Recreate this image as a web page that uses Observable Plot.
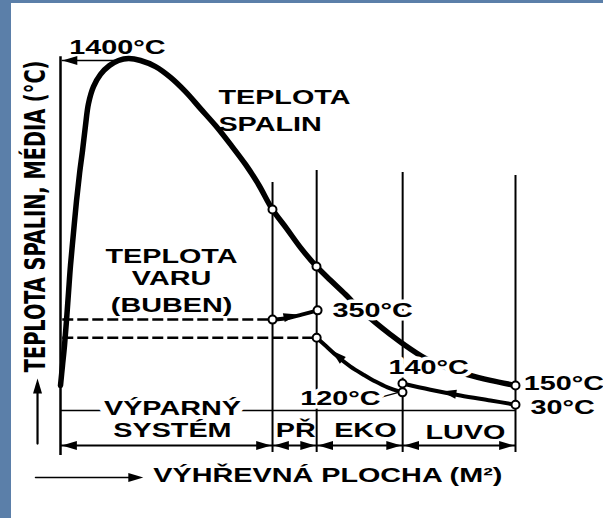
<!DOCTYPE html>
<html><head><meta charset="utf-8">
<script src="https://cdn.jsdelivr.net/npm/d3@7"></script>
<script src="https://cdn.jsdelivr.net/npm/@observablehq/plot@0.6"></script>
<style>
html,body{margin:0;padding:0;}
body{width:603px;height:518px;background:#5b7fa9;position:relative;overflow:hidden;}
#chart{position:absolute;left:11px;top:3px;width:592px;height:515px;background:#fff;}
#chart svg{display:block;}
</style></head><body><div id="chart"></div>
<script>
// ---- data (relative units: x = heating surface, y = temperature level) ----
const sectionNames = ["VÝPARNÝ", "SYSTÉM", "PŘ", "EKO", "LUVO"];
const boundaries = [0, 46.6, 56.3, 75.2, 100];
const dividerTops = [68.3, 71.4, 70.9, 70.1];

const gasX = [0, 0.44, 0.88, 1.32, 1.76, 2.2, 2.86, 3.52, 4.18, 4.84, 5.49, 6.15, 7.25, 8.79, 10.77, 12.75, 14.95, 17.58, 20.88, 24.18, 27.47, 30.77, 34.07, 37.36, 40.66, 43.52, 46.59, 49.67, 52.75, 56.26, 59.34, 62.64, 65.93, 69.23, 72.53, 75.16, 80.22, 84.62, 89.45, 94.51, 100];
const gasY = [15.6, 20.8, 26.0, 32.5, 39.7, 46.8, 55.3, 63.6, 70.6, 76.6, 83.1, 88.8, 93.2, 96.4, 98.7, 100, 100.5, 100, 98.4, 95.6, 91.9, 87.5, 83.1, 78.2, 73.0, 67.8, 61.3, 56.4, 51.4, 46.5, 42.9, 39.2, 35.3, 31.9, 28.8, 26.5, 22.6, 20.3, 18.4, 16.9, 15.6];

const boilLevel = 32.7;      // teplota varu (buben)
const feedLevel = 28.0;
const steamX = [46.6, 50.3, 53.0, 56.5];
const steamY = [32.7, 33.2, 34.0, 35.1];
const waterX = [56.3, 58.46, 60.88, 63.74, 66.59, 69.23, 71.87, 75.16];
const waterY = [28.0, 25.7, 23.1, 20.5, 18.4, 16.6, 15.1, 13.8];
const airX = [75.16, 81.3, 87.9, 94.5, 100];
const airY = [16.1, 14.5, 13.0, 11.7, 10.6];

const tempLabels = ["1400°C", "350°C", "140°C", "150°C", "30°C", "120°C"];
const curveLabels = ["TEPLOTA", "SPALIN", "TEPLOTA", "VARU", "(BUBEN)"];
const axisLabelY = "TEPLOTA SPALIN, MÉDIA (°C)";
const axisLabelX = "VÝHŘEVNÁ PLOCHA (M²)";

// ---- build ----
const pts = (xs, ys) => xs.map((x, i) => ({x, y: ys[i]}));
const gas = pts(gasX, gasY), steam = pts(steamX, steamY), water = pts(waterX, waterY), air = pts(airX, airY);
const nearestGas = (bx) => gas.reduce((a, b) => Math.abs(b.x - bx) < Math.abs(a.x - bx) ? b : a);
const circles = [
  nearestGas(boundaries[1]), nearestGas(boundaries[2]), gas[gas.length - 1],
  steam[0], steam[steam.length - 1], water[0], water[water.length - 1], air[0], air[air.length - 1]
];

function head(angle, len = 2.5, wid = 1.5) {
  const a = angle * Math.PI / 180, c = Math.cos(a), s = Math.sin(a);
  return {draw(ctx, size) {
    const r = Math.sqrt(size / Math.PI), L = len * r, W = wid * r / 2;
    const P = [[0, 0], [-L, -W], [-L, W]].map(([x, y]) => [x * c - y * s, x * s + y * c]);
    ctx.moveTo(...P[0]); ctx.lineTo(...P[1]); ctx.lineTo(...P[2]); ctx.closePath();
  }};
}
const heads = [
  {x: steam[2].x - 0.7, y: steam[2].y, a: -12},
  {x: 59.6, y: 24.7, a: -138},
  {x: 83.7, y: 14.0, a: -170},
  {x: 0.4, y: 100, a: 180},
  {x: -5.05, y: 17.4, a: -90},
  {x: 18.2, y: -8.3, a: 0}
];
boundaries.forEach((b, i) => {
  if (i < boundaries.length - 1) heads.push({x: b + 0.3, y: 0, a: 180});
  if (i > 0) heads.push({x: b - 0.3, y: 0, a: 0});
});

const font = "Liberation Sans, Arial, sans-serif";
const T = (data, o) => Plot.text(data, {x: "x", y: "y", text: "t", fontSize: 21, fontWeight: "bold", fontFamily: font, lineAnchor: "bottom", fill: "black", ...o});

const marks = [
  Plot.ruleX([0], {y1: -2.6, y2: 101, strokeWidth: 2.5}),
  Plot.ruleX(d3.range(4), {x: i => boundaries[i + 1], y1: -1.8, y2: i => dividerTops[i], strokeWidth: 2}),
  Plot.ruleY([9.1], {x1: 0, x2: 100, strokeWidth: 1.6}),
  Plot.ruleY([0], {x1: 0, x2: 100, strokeWidth: 2}),
  Plot.ruleY([boilLevel], {x1: 0.5, x2: boundaries[1], strokeWidth: 2.5, strokeDasharray: "11,4"}),
  Plot.ruleY([feedLevel], {x1: 0.5, x2: boundaries[2], strokeWidth: 2.5, strokeDasharray: "11,4"}),
  Plot.line([{x: 0.4, y: 100}, {x: 13.6, y: 100}], {x: "x", y: "y", strokeWidth: 1.5}),
  Plot.line([{x: -5.05, y: 0.5}, {x: -5.05, y: 16}], {x: "x", y: "y", strokeWidth: 2.2}),
  Plot.line([{x: -5.5, y: -8.3}, {x: 17, y: -8.3}], {x: "x", y: "y", strokeWidth: 1.5}),
  Plot.line([{x: 70.3, y: 12.5}, {x: 74.3, y: 13.8}], {x: "x", y: "y", strokeWidth: 1.5}),
  Plot.line(gas, {x: "x", y: "y", curve: "catmull-rom", strokeWidth: 5.5, strokeLinecap: "round"}),
  Plot.line(steam, {x: "x", y: "y", curve: "catmull-rom", strokeWidth: 4}),
  Plot.line(water, {x: "x", y: "y", curve: "catmull-rom", strokeWidth: 4}),
  Plot.line(air, {x: "x", y: "y", curve: "catmull-rom", strokeWidth: 4}),
  ...heads.map(h => Plot.dot([h], {x: "x", y: "y", r: 6, symbol: head(h.a), fill: "black", stroke: "none"})),
  Plot.dot(circles, {x: "x", y: "y", r: 4, fill: "white", stroke: "black", strokeWidth: 2}),
  // curve labels
  T([{t: tempLabels[0], x: 12.5, y: 101.8}], {textAnchor: "middle"}),
  T([{t: curveLabels[0], x: 34.7, y: 88.8}, {t: curveLabels[1], x: 34.7, y: 81.8}], {textAnchor: "start"}),
  T([{t: curveLabels[2], x: 24.4, y: 47.5}, {t: curveLabels[3], x: 24.4, y: 41.6}, {t: curveLabels[4], x: 24.4, y: 34.7}], {textAnchor: "middle"}),
  T([{t: tempLabels[1], x: 59.8, y: 33.5}, {t: tempLabels[2], x: 72.1, y: 18.7}, {t: tempLabels[5], x: 52.7, y: 10.4}], {textAnchor: "start", stroke: "white", strokeWidth: 7}),
  T([{t: tempLabels[3], x: 101.8, y: 14.3}, {t: tempLabels[4], x: 103.3, y: 8.3}], {textAnchor: "start"}),
  // section labels
  T([{t: sectionNames[0], x: 24.6, y: 7.8}], {textAnchor: "middle", stroke: "white", strokeWidth: 12}),
  T([{t: sectionNames[1], x: 24.6, y: 2.3}, {t: sectionNames[3], x: 67.0, y: 2.1}, {t: sectionNames[4], x: 89.0, y: 1.8}], {textAnchor: "middle"}),
  T([{t: sectionNames[2], x: 47.3, y: 2.1}], {textAnchor: "start"}),
  // axis labels
  T([{t: axisLabelX, x: 20.4, y: -9.6}], {textAnchor: "start"}),
  T([{t: axisLabelY, x: -5.35, y: 59.5}], {textAnchor: "middle", lineAnchor: "middle", rotate: -90, fontSize: 29,
     fontFamily: "Liberation Sans Narrow, DejaVu Sans Condensed, Liberation Sans, sans-serif"})
];

const plot = Plot.plot({
  width: 592, height: 515,
  marginLeft: 49, marginRight: 88, marginTop: 57, marginBottom: 73,
  x: {domain: [0, 100], axis: null},
  y: {domain: [0, 100], axis: null},
  style: {background: "white", overflow: "visible"},
  marks
});
document.getElementById("chart").append(plot);
const yLabelSpan = 312; // reference extent of the rotated axis title, px
plot.querySelectorAll("text").forEach(t => {
  const w = t.getComputedTextLength();
  if (t.textContent.includes("MÉDIA")) {
    const k = Math.min(1, yLabelSpan / w);
    t.setAttribute("transform", (t.getAttribute("transform") || "") + ` scale(${k.toFixed(3)},1)`);
  } else {
    t.setAttribute("textLength", (w * 1.37).toFixed(1));
    t.setAttribute("lengthAdjust", "spacingAndGlyphs");
  }
});
</script></body></html>
